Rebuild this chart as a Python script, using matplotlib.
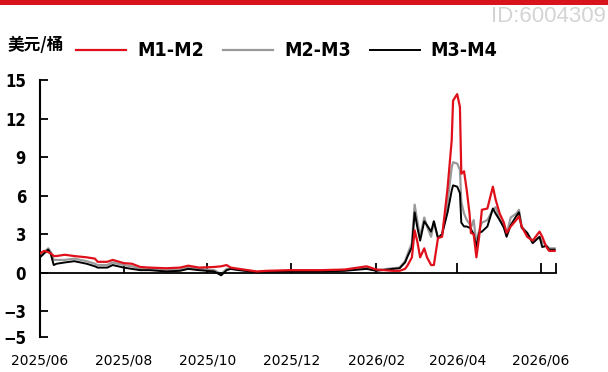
import matplotlib
matplotlib.use("Agg")
import matplotlib.pyplot as plt
import pandas as pd

# 日期与三条价差序列（美元/桶）
dates = ["2025-06-01", "2025-06-04", "2025-06-07", "2025-06-09", "2025-06-11", "2025-06-13",
         "2025-06-19", "2025-06-26", "2025-07-05", "2025-07-11", "2025-07-13", "2025-07-20",
         "2025-07-24", "2025-08-01", "2025-08-07", "2025-08-13", "2025-08-20", "2025-09-01",
         "2025-09-11", "2025-09-17", "2025-09-25", "2025-10-06", "2025-10-11", "2025-10-15",
         "2025-10-18", "2025-10-24", "2025-11-06", "2025-11-13", "2025-11-30", "2025-12-22",
         "2026-01-09", "2026-01-25", "2026-02-01", "2026-02-13", "2026-02-18", "2026-02-22",
         "2026-02-24", "2026-02-27", "2026-03-01", "2026-03-03", "2026-03-05", "2026-03-08",
         "2026-03-10", "2026-03-13", "2026-03-15", "2026-03-18", "2026-03-21", "2026-03-25",
         "2026-03-28", "2026-03-29", "2026-04-01", "2026-04-03", "2026-04-04", "2026-04-06",
         "2026-04-08", "2026-04-10", "2026-04-11", "2026-04-13", "2026-04-15", "2026-04-17",
         "2026-04-19", "2026-04-23", "2026-04-27", "2026-04-29", "2026-05-02", "2026-05-05",
         "2026-05-07", "2026-05-10", "2026-05-14", "2026-05-16", "2026-05-18", "2026-05-22",
         "2026-05-26", "2026-05-31", "2026-06-02", "2026-06-05", "2026-06-07", "2026-06-11"]

m1_m2 = [1.5, 1.7, 1.6, 1.5, 1.3, 1.3, 1.4, 1.3, 1.2, 1.1, 0.85, 0.85,
         1.0, 0.75, 0.7, 0.45, 0.4, 0.35, 0.4, 0.55, 0.4, 0.45, 0.5, 0.6,
         0.4, 0.3, 0.1, 0.15, 0.2, 0.2, 0.25, 0.5, 0.25, 0.15, 0.15, 0.3,
         0.6, 1.2, 3.3, 2.4, 1.2, 1.9, 1.2, 0.6, 0.6, 2.7, 2.8, 6.6,
         10.3, 13.4, 13.9, 12.9, 7.7, 7.9, 6.4, 4.6, 3.1, 3.0, 1.2, 2.8,
         4.9, 5.0, 6.7, 5.7, 4.6, 3.9, 3.1, 3.6, 4.1, 4.4, 3.6, 2.8,
         2.5, 3.2, 2.8, 2.0, 1.7, 1.7]

m2_m3 = [1.4, 1.6, 1.9, 1.6, 1.0, 1.0, 1.0, 1.1, 0.9, 0.7, 0.6, 0.6,
         0.8, 0.6, 0.5, 0.3, 0.3, 0.2, 0.25, 0.4, 0.3, 0.2, -0.1, 0.3,
         0.3, 0.25, 0.05, 0.1, 0.15, 0.15, 0.2, 0.4, 0.2, 0.35, 0.4, 0.9,
         1.5, 2.3, 5.3, 4.0, 2.8, 4.3, 3.6, 2.8, 4.0, 2.7, 3.0, 5.5,
         8.2, 8.6, 8.5, 8.0, 5.5, 4.6, 4.1, 3.8, 3.5, 4.1, 2.3, 3.3,
         3.9, 4.1, 4.9, 5.1, 4.1, 3.7, 3.0, 4.3, 4.6, 4.9, 3.6, 3.1,
         2.4, 2.8, 2.4, 2.1, 1.9, 1.9]

m3_m4 = [1.2, 1.5, 1.8, 1.4, 0.6, 0.7, 0.8, 0.9, 0.7, 0.5, 0.4, 0.4,
         0.6, 0.4, 0.3, 0.2, 0.2, 0.1, 0.15, 0.3, 0.2, 0.1, -0.2, 0.2,
         0.3, 0.2, 0.05, 0.1, 0.1, 0.1, 0.15, 0.3, 0.15, 0.3, 0.35, 0.8,
         1.3, 2.0, 4.7, 3.5, 2.5, 4.0, 3.7, 3.2, 4.0, 2.7, 3.0, 4.7,
         6.4, 6.8, 6.7, 6.2, 3.9, 3.6, 3.6, 3.5, 3.4, 3.0, 2.0, 3.1,
         3.2, 3.6, 5.0, 4.6, 4.1, 3.5, 2.8, 3.7, 4.4, 4.7, 3.5, 3.1,
         2.3, 2.8, 2.0, 2.1, 1.8, 1.8]

y_ticks = [-5, -3, 0, 3, 6, 9, 12, 15]
x_ticks = ["2025-06-01", "2025-08-01", "2025-10-01", "2025-12-01",
           "2026-02-01", "2026-04-01", "2026-06-01"]

x = pd.to_datetime(dates)
tick_font = {"family": "DejaVu Sans", "stretch": "condensed", "weight": "bold", "size": 12}

fig = plt.figure(figsize=(6.08, 3.72), dpi=100)
ax = fig.add_axes([40 / 608, 1 - 337 / 372, 516 / 608, 257 / 372])

ax.plot(x, m1_m2, color="#e0101a", lw=1.6, label="M1-M2", zorder=3)
ax.plot(x, m2_m3, color="#999999", lw=1.6, label="M2-M3", zorder=2)
ax.plot(x, m3_m4, color="#000000", lw=1.4, label="M3-M4", zorder=2)

ax.set_ylim(-5, 15)
ax.set_xlim(pd.Timestamp("2025-06-01"), pd.Timestamp("2026-06-12"))
ax.set_yticks(y_ticks)
ax.set_yticklabels([str(v).replace("-", "\u2212") for v in y_ticks], **tick_font)
ax.set_xticks(pd.to_datetime(x_ticks))
ax.set_xticklabels([pd.Timestamp(d).strftime("%Y/%m") for d in x_ticks], **tick_font)
ax.set_xticks([pd.Timestamp("2026-06-12")], minor=True)

ax.spines["top"].set_visible(False)
ax.spines["right"].set_visible(False)
ax.spines["bottom"].set_position(("data", 0))
ax.spines["left"].set_linewidth(1.5)
ax.spines["bottom"].set_linewidth(1.3)
ax.tick_params(axis="y", direction="in", length=6, width=1.3, pad=10)
ax.tick_params(axis="x", which="both", direction="in", length=7, width=1.3, pad=58)

# 顶部红条与水印编号
fig.add_artist(plt.Rectangle((0, 1 - 5 / 372), 1, 5 / 372, transform=fig.transFigure,
                             color="#d7141d", lw=0))
fig.text(606 / 608, 1 - 17 / 372, "ID:6004309", ha="right", va="center",
         color="#d4d4d4", fontsize=16, fontfamily="Liberation Sans")

fig.text(8 / 608, 1 - 45 / 372, "美元/桶", ha="left", va="center", fontsize=12,
         fontweight="bold", fontfamily=["Noto Sans CJK SC", "DejaVu Sans"])
fig.legend(loc="center left", bbox_to_anchor=(76 / 608, 1 - 51 / 372), ncol=3,
           frameon=False, borderpad=0, borderaxespad=0,
           handlelength=2.57, handletextpad=0.57, columnspacing=0.98,
           prop={"family": "DejaVu Sans", "stretch": "condensed", "weight": "bold",
                 "size": 14})

fig.savefig("out.png", dpi=100)
